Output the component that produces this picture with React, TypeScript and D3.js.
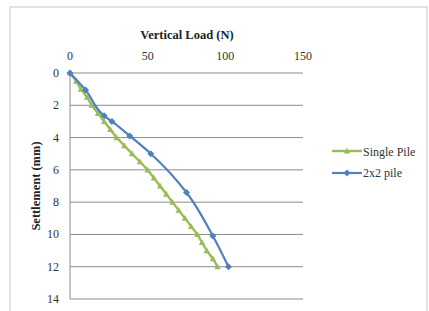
import React from "react";
import * as d3 from "d3";

const xTicks = [0, 50, 100, 150];
const yTicks = [0, 2, 4, 6, 8, 10, 12, 14];

const singleLoad = [0, 4, 7, 11, 14, 18, 22, 26, 30, 35, 40, 45, 50, 54, 58, 62, 66, 70, 74, 78, 82, 85, 88, 92, 95];
const singleSettle = [0, 0.5, 1, 1.5, 2, 2.5, 3, 3.5, 4, 4.5, 5, 5.5, 6, 6.5, 7, 7.5, 8, 8.5, 9, 9.5, 10, 10.5, 11, 11.5, 12];

const pileLoad = [0, 10, 22, 27, 38.5, 52, 75, 92, 102];
const pileSettle = [0, 1.05, 2.65, 3.0, 3.9, 5.0, 7.4, 10.1, 12.0];

const GREEN = "#9BBB59";
const BLUE = "#4F81BD";

export default function App() {
  const W = 429, H = 311;
  const x = d3.scaleLinear().domain([0, 150]).range([70, 303]);
  const y = d3.scaleLinear().domain([0, 14]).range([73, 299]);
  const font = "Liberation Serif, DejaVu Serif, Times New Roman, serif";
  const tstyle = { fontFamily: font } as React.CSSProperties;

  const single = singleLoad.map((v, i) => [v, singleSettle[i]] as [number, number]);
  const pile = pileLoad.map((v, i) => [v, pileSettle[i]] as [number, number]);

  const lineStraight = d3.line<[number, number]>().x(d => x(d[0])).y(d => y(d[1]));
  const lineSmooth = d3.line<[number, number]>().x(d => x(d[0])).y(d => y(d[1])).curve(d3.curveMonotoneY);

  const tri = (cx: number, cy: number, s = 3.2) =>
    `M${cx},${cy - s}L${cx + s},${cy + s * 0.8}L${cx - s},${cy + s * 0.8}Z`;
  const dia = (cx: number, cy: number, s = 3.5) =>
    `M${cx},${cy - s}L${cx + s},${cy}L${cx},${cy + s}L${cx - s},${cy}Z`;

  return (
    <svg width={W} height={H} style={{ position: "absolute", left: 0, top: 0, background: "#fff", fontFamily: font }}>
      <rect x={10} y={7} width={417} height={320} fill="#fff" stroke="#d9d9d9" strokeWidth={1.5} />
      {yTicks.map(t => (
        <g key={t}>
          <line x1={x(0)} x2={x(150)} y1={y(t)} y2={y(t)} stroke="#8c8c8c" strokeWidth={1} />
          <text x={59} y={y(t) + 4} fontSize={12} style={tstyle} textAnchor="end" fill="#333">{t}</text>
        </g>
      ))}
      <line x1={x(0)} x2={x(0)} y1={y(0)} y2={y(14)} stroke="#8c8c8c" strokeWidth={1} />
      {xTicks.map(t => (
        <text key={t} x={x(t)} y={60} fontSize={12} style={tstyle} textAnchor="middle" fill="#333">{t}</text>
      ))}
      <text x={187} y={39} fontSize={12.5} fontWeight="bold" style={tstyle} textAnchor="middle" fill="#222">Vertical Load (N)</text>
      <text transform={`translate(40,186) rotate(-90)`} fontSize={12.5} fontWeight="bold" style={tstyle} textAnchor="middle" fill="#222">Settlement (mm)</text>

      <path d={lineStraight(single) || ""} fill="none" stroke={GREEN} strokeWidth={2.4} />
      {single.map((d, i) => (
        <path key={i} d={tri(x(d[0]), y(d[1]))} fill={GREEN} />
      ))}
      <path d={lineSmooth(pile) || ""} fill="none" stroke={BLUE} strokeWidth={2.2} />
      {pile.map((d, i) => (
        <path key={i} d={dia(x(d[0]), y(d[1]))} fill={BLUE} />
      ))}

      <line x1={332} x2={362} y1={151} y2={151} stroke={GREEN} strokeWidth={2.4} />
      <path d={tri(347, 151)} fill={GREEN} />
      <text x={363} y={156} fontSize={12} style={tstyle} fill="#333">Single Pile</text>
      <line x1={332} x2={362} y1={173} y2={173} stroke={BLUE} strokeWidth={2.2} />
      <path d={dia(347, 173)} fill={BLUE} />
      <text x={363} y={177} fontSize={12} style={tstyle} fill="#333">2x2 pile</text>
    </svg>
  );
}
